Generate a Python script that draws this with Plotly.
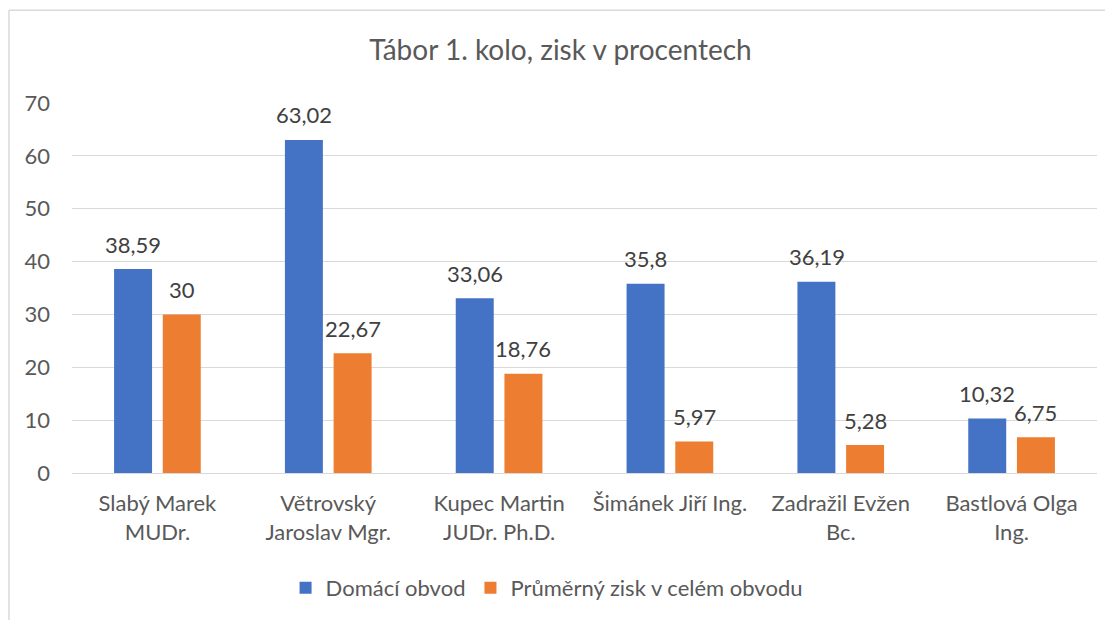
import plotly.graph_objects as go

# chart data
candidates = [
    "Slabý Marek<br>MUDr.",
    "Větrovský<br>Jaroslav Mgr.",
    "Kupec Martin<br>JUDr. Ph.D.",
    "Šimánek Jiří Ing.",
    "Zadražil Evžen<br>Bc.",
    "Bastlová Olga<br>Ing.",
]
home_district = [38.59, 63.02, 33.06, 35.8, 36.19, 10.32]
district_average = [30, 22.67, 18.76, 5.97, 5.28, 6.75]
series_names = ["Domácí obvod", "Průměrný zisk v celém obvodu"]
colors = ["#4472C4", "#ED7D31"]
y_ticks = [0, 10, 20, 30, 40, 50, 60, 70]

FONT = "Lato, 'Open Sans', sans-serif"


def fmt(v):
    # Czech decimal comma
    return f"{v:g}".replace(".", ",")


fig = go.Figure()
for name, vals, col in zip(series_names, [home_district, district_average], colors):
    fig.add_trace(
        go.Bar(
            x=candidates,
            y=vals,
            name=name,
            marker=dict(color=col, line=dict(width=0)),
        )
    )

# value labels above bars
annotations = []
for shift, vals in zip([-24.25, 24.25], [home_district, district_average]):
    for c, v in zip(candidates, vals):
        annotations.append(
            dict(
                x=c,
                y=v,
                text=fmt(v),
                showarrow=False,
                xshift=shift,
                yshift=25,
                yanchor="middle",
                font=dict(family=FONT, size=22, color="#404040"),
            )
        )

# chart frame (left and top edges visible in the crop)
border = "#d9d9d9"
shapes = [
    dict(type="line", xref="paper", yref="paper", x0=-0.0615, x1=-0.0615,
         y0=-0.45, y1=1.2507, line=dict(color=border, width=1.5)),
    dict(type="line", xref="paper", yref="paper", x0=-0.0615, x1=1.05,
         y0=1.2507, y1=1.2507, line=dict(color=border, width=1.5)),
]

# page body has an 8px margin, so the figure is shrunk by that much
fig.update_layout(
    width=1105,
    height=612,
    margin=dict(l=64, r=16, t=95, b=146),
    paper_bgcolor="white",
    plot_bgcolor="white",
    font=dict(family=FONT, color="#595959", size=22),
    title=dict(
        text="Tábor 1. kolo, zisk v procentech",
        x=0.5,
        xanchor="center",
        y=1 - 42 / 612,
        yanchor="middle",
        font=dict(family=FONT, size=28, color="#595959"),
    ),
    barmode="group",
    bargap=0.43,
    bargroupgap=0.22,
    xaxis=dict(
        showgrid=False,
        showline=False,
        ticks="",
        ticklabelstandoff=15,
        tickfont=dict(size=22, color="#595959"),
    ),
    yaxis=dict(
        range=[0, 70],
        tickvals=y_ticks,
        showgrid=True,
        gridcolor="#d9d9d9",
        gridwidth=1.3,
        zeroline=True,
        zerolinecolor="#d9d9d9",
        zerolinewidth=1.3,
        ticks="",
        ticklabelstandoff=21,
        tickfont=dict(size=22, color="#595959"),
    ),
    legend=dict(
        orientation="h",
        x=0.463,
        xanchor="center",
        y=-0.307,
        yanchor="middle",
        font=dict(size=22, color="#595959"),
        itemwidth=30,
        traceorder="normal",
    ),
    annotations=annotations,
    shapes=shapes,
)

fig.write_html("out.html")
